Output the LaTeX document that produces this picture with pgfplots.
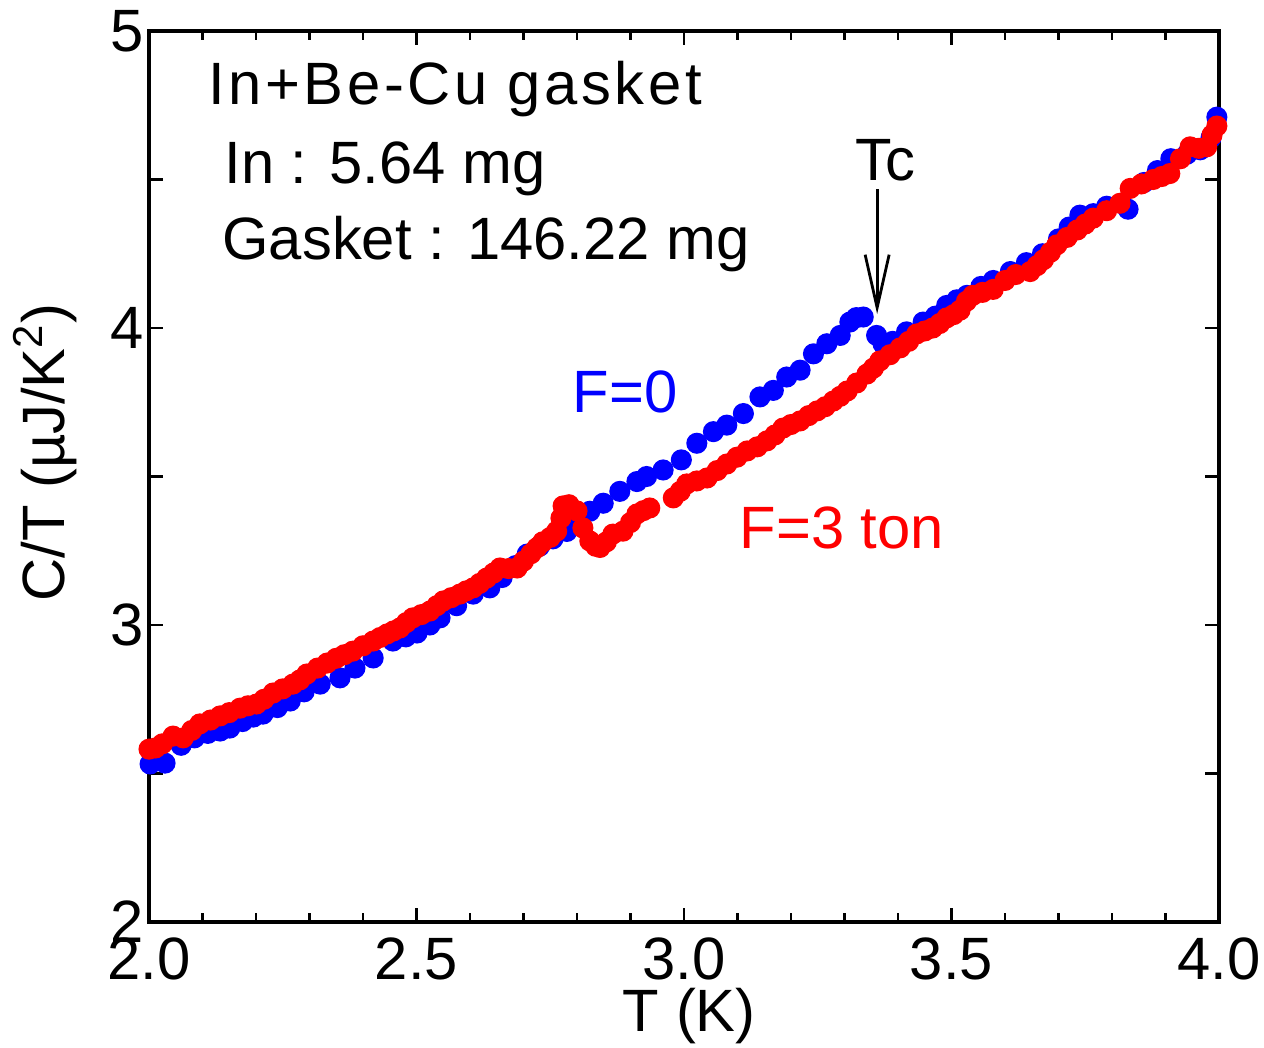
\documentclass[border=0pt]{standalone}
\usepackage{fontspec}
\setmainfont{Liberation Sans}
\newfontfamily\spaced[LetterSpace=6]{Liberation Sans}
\usepackage{pgfplots}
\usepackage{pgfplotstable}
\pgfplotsset{compat=1.18}
\usetikzlibrary{arrows.meta}

% F = 0
\pgfplotstableread{
T C
2.002 2.532
2.030 2.535
2.060 2.595
2.085 2.620
2.110 2.635
2.133 2.643
2.151 2.653
2.175 2.675
2.195 2.690
2.213 2.700
2.240 2.722
2.264 2.744
2.290 2.775
2.320 2.801
2.357 2.822
2.385 2.855
2.419 2.889
2.456 2.946
2.480 2.960
2.501 2.973
2.525 3.000
2.544 3.024
2.575 3.065
2.606 3.104
2.637 3.125
2.660 3.160
2.685 3.200
2.707 3.239
2.730 3.265
2.755 3.290
2.781 3.315
2.800 3.345
2.824 3.383
2.849 3.410
2.880 3.450
2.912 3.483
2.930 3.500
2.961 3.522
2.995 3.556
3.024 3.612
3.055 3.651
3.080 3.673
3.111 3.712
3.142 3.768
3.167 3.790
3.192 3.835
3.217 3.858
3.242 3.913
3.267 3.947
3.292 3.975
3.310 4.020
3.322 4.035
3.335 4.037
3.360 3.975
3.372 3.947
3.390 3.955
3.416 3.987
3.447 4.020
3.470 4.040
3.491 4.076
3.510 4.095
3.529 4.110
3.555 4.140
3.578 4.160
3.610 4.190
3.640 4.220
3.670 4.250
3.700 4.300
3.720 4.340
3.740 4.380
3.765 4.385
3.790 4.410
3.830 4.400
3.860 4.490
3.885 4.530
3.910 4.570
3.940 4.585
3.965 4.600
3.985 4.640
3.996 4.710
}\zeroforce

% F = 3 ton
\pgfplotstableread{
T C
2.000 2.582
2.012 2.586
2.025 2.600
2.045 2.626
2.064 2.620
2.080 2.645
2.095 2.667
2.115 2.680
2.133 2.694
2.150 2.705
2.170 2.720
2.185 2.728
2.201 2.734
2.215 2.750
2.232 2.771
2.250 2.785
2.269 2.801
2.282 2.815
2.295 2.835
2.315 2.855
2.333 2.872
2.350 2.888
2.365 2.900
2.381 2.912
2.400 2.930
2.419 2.946
2.432 2.958
2.445 2.970
2.457 2.980
2.469 2.990
2.481 3.008
2.493 3.024
2.509 3.035
2.525 3.047
2.538 3.065
2.550 3.081
2.565 3.092
2.581 3.104
2.593 3.115
2.606 3.125
2.618 3.140
2.631 3.158
2.644 3.175
2.656 3.192
2.672 3.190
2.688 3.192
2.700 3.215
2.714 3.240
2.725 3.260
2.736 3.280
2.750 3.295
2.762 3.316
2.770 3.360
2.774 3.401
2.785 3.405
2.800 3.384
2.811 3.327
2.824 3.283
2.835 3.265
2.843 3.261
2.855 3.280
2.867 3.306
2.886 3.316
2.900 3.345
2.912 3.374
2.924 3.385
2.936 3.394
2.980 3.428
2.993 3.450
3.005 3.475
3.024 3.485
3.043 3.495
3.062 3.520
3.080 3.542
3.099 3.565
3.118 3.586
3.137 3.600
3.155 3.620
3.170 3.640
3.185 3.663
3.200 3.675
3.217 3.687
3.233 3.705
3.249 3.721
3.264 3.735
3.279 3.754
3.292 3.770
3.305 3.788
3.323 3.815
3.342 3.845
3.354 3.865
3.366 3.889
3.385 3.910
3.404 3.933
3.420 3.955
3.435 3.980
3.450 3.990
3.465 4.000
3.478 4.015
3.491 4.034
3.504 4.045
3.516 4.060
3.528 4.090
3.540 4.110
3.558 4.120
3.578 4.130
3.600 4.160
3.620 4.180
3.647 4.190
3.660 4.210
3.672 4.230
3.685 4.255
3.697 4.280
3.716 4.305
3.735 4.330
3.750 4.350
3.765 4.370
3.790 4.395
3.815 4.420
3.834 4.470
3.855 4.485
3.877 4.500
3.893 4.510
3.908 4.520
3.928 4.570
3.946 4.610
3.962 4.605
3.977 4.610
3.987 4.650
3.996 4.680
}\threeton

\begin{document}
\begin{tikzpicture}[font=\fontsize{17}{20}\selectfont]
\begin{axis}[
  scale only axis, width=10.70cm, height=8.91cm,
  xmin=2, xmax=4, ymin=2, ymax=5,
  xtick={2,2.5,3,3.5,4}, xticklabels={2.0,2.5,3.0,3.5,4.0},
  minor x tick num=4,
  ytick={2,2.5,3,3.5,4,4.5,5}, yticklabels={2,,3,,4,,5},
  tick align=inside,
  major tick length=0.14cm, minor tick length=0.09cm,
  axis line style={line width=0.9pt},
  every tick/.style={black, line width=0.6pt},
  /pgf/number format/assume math mode=true,
  yticklabel style={xshift=0.07cm},
  xticklabel style={yshift=-0.03cm},
  xlabel={T (K)},
  ylabel={C/T (µJ/K\textsuperscript{2})},
  xlabel style={at={(axis description cs:0.505,-0.106)}, anchor=center},
  ylabel style={at={(axis description cs:-0.097,0.527)}, anchor=center},
  clip=false,
]
\addplot[only marks, mark=*, mark size=2.8pt, mark options={draw=blue, fill=blue}]
  table[x=T, y=C] {\zeroforce};
\addplot[only marks, mark=*, mark size=2.8pt, mark options={draw=red, fill=red}]
  table[x=T, y=C] {\threeton};

\node[anchor=base west, inner sep=0pt] at (axis cs:2.110,4.754) {\spaced In+Be-Cu gasket};
\node[anchor=base west, inner sep=0pt] at (axis cs:2.140,4.488) {In : 5.64 mg};
\node[anchor=base west, inner sep=0pt] at (axis cs:2.136,4.232) {Gasket : 146.22 mg};
\node[anchor=base, inner sep=0pt] at (axis cs:3.376,4.495) {Tc};
\draw[line width=0.8pt, -{Straight Barb[length=5.3mm, width=2.4mm]}]
  (axis cs:3.361,4.468) -- (axis cs:3.361,4.047);
\node[anchor=base, inner sep=0pt, text=blue] at (axis cs:2.890,3.714) {F=0};
\node[anchor=base, inner sep=0pt, text=red] at (axis cs:3.295,3.259) {F=3 ton};
\end{axis}
\pgfresetboundingbox
\path[use as bounding box]
  ([shift={(-1.49cm,-1.25cm)}]current axis.south west) rectangle
  ([shift={(0.45cm,0.31cm)}]current axis.north east);
\end{tikzpicture}
\end{document}
